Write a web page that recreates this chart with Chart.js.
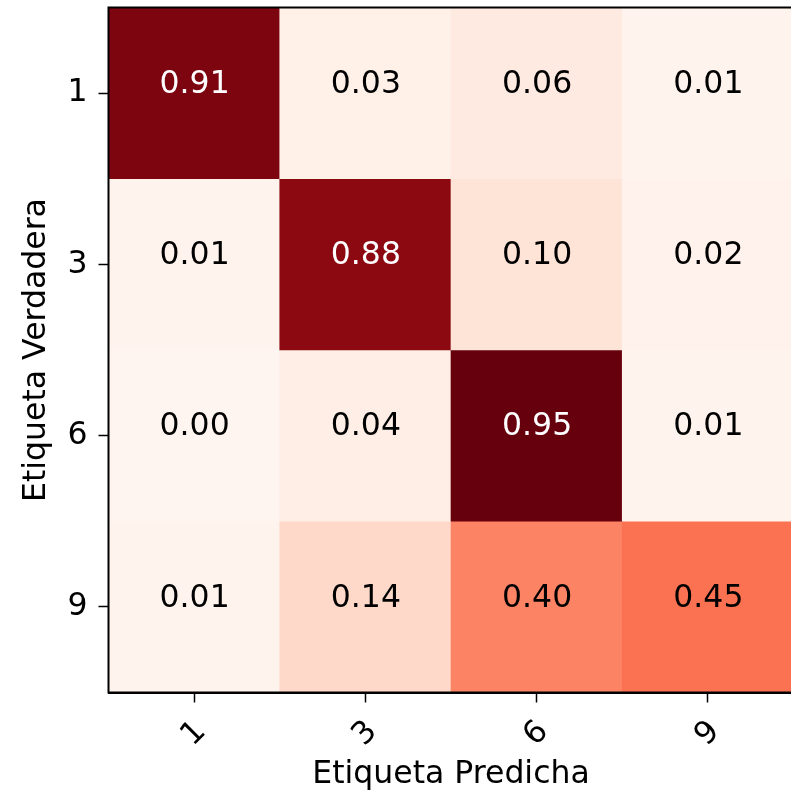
<!DOCTYPE html>
<html>
<head>
<meta charset="utf-8">
<script src="https://cdn.jsdelivr.net/npm/chart.js@4.4.1/dist/chart.umd.min.js"></script>
<style>
  html, body { margin: 0; padding: 0; background: #fff; overflow: hidden; width: 791px; height: 794px; }
  #wrap { position: absolute; left: 0; top: 0; width: 800px; height: 794px; }
</style>
</head>
<body>
<div id="wrap"><canvas id="c" width="800" height="794"></canvas></div>
<script>
// ---- data ----
const predLabels = ['1', '3', '6', '9'];   // x: Etiqueta Predicha
const trueLabels = ['1', '3', '6', '9'];   // y: Etiqueta Verdadera
const rowTrue1 = [0.91, 0.03, 0.06, 0.01];
const rowTrue3 = [0.01, 0.88, 0.10, 0.02];
const rowTrue6 = [0.00, 0.04, 0.95, 0.01];
const rowTrue9 = [0.01, 0.14, 0.40, 0.45];
const rows = [rowTrue1, rowTrue3, rowTrue6, rowTrue9];

// ---- style: matplotlib "Reds" colormap ----
const REDS = ['#fff5f0','#fee0d2','#fcbba1','#fc9272','#fb6a4a','#ef3b2c','#cb181d','#a50f15','#67000d'];
function hex2rgb(h){ return [parseInt(h.slice(1,3),16), parseInt(h.slice(3,5),16), parseInt(h.slice(5,7),16)]; }
function reds(t){
  t = Math.max(0, Math.min(1, t));
  const pos = t * (REDS.length - 1);
  const i = Math.min(Math.floor(pos), REDS.length - 2);
  const f = pos - i;
  const a = hex2rgb(REDS[i]), b = hex2rgb(REDS[i+1]);
  const c = a.map((v, k) => Math.round(v + (b[k] - v) * f));
  return 'rgb(' + c.join(',') + ')';
}
const vmax = Math.max(...rows.flat());
const FONT = "'DejaVu Sans', 'Liberation Sans', sans-serif";
const FS = 31.5;

const datasets = rows.map((vals, r) => ({
  label: trueLabels[r],
  data: vals.map(() => [r - 0.5, r + 0.5]),
  values: vals,
  backgroundColor: vals.map(v => reds(v / vmax)),
  borderWidth: 0,
  grouped: false,
  barPercentage: 1,
  categoryPercentage: 1
}));

const cellText = {
  id: 'cellText',
  afterDatasetsDraw(chart) {
    const ctx = chart.ctx;
    ctx.save();
    ctx.font = FS + 'px ' + FONT;
    ctx.textAlign = 'center';
    ctx.textBaseline = 'middle';
    chart.data.datasets.forEach((ds, di) => {
      const meta = chart.getDatasetMeta(di);
      meta.data.forEach((el, i) => {
        const v = ds.values[i];
        const cy = (el.y + el.base) / 2;
        ctx.fillStyle = v / vmax > 0.7 ? '#ffffff' : '#000000';
        ctx.fillText(v.toFixed(2), el.x + 0.5, cy - 8.5);
      });
    });
    // frame
    const a = chart.chartArea;
    ctx.strokeStyle = '#000';
    ctx.lineWidth = 2;
    ctx.strokeRect(a.left, a.top, a.right - a.left, a.bottom - a.top);
    ctx.restore();
  }
};

new Chart(document.getElementById('c'), {
  type: 'bar',
  data: { labels: predLabels, datasets },
  options: {
    responsive: false,
    animation: false,
    devicePixelRatio: 1,
    layout: { padding: { left: 0, top: 7.5, right: 6.5, bottom: 0 } },
    plugins: { legend: { display: false }, tooltip: { enabled: false } },
    scales: {
      x: {
        type: 'category',
        offset: true,
        grid: { offset: false, drawOnChartArea: false, drawTicks: true, tickLength: 10, tickWidth: 1.5, tickColor: '#000' },
        border: { display: true, color: '#000', width: 2 },
        ticks: { color: '#000', font: { family: FONT, size: FS }, minRotation: 45, maxRotation: 45, padding: 11, labelOffset: 7 },
        title: { display: true, text: 'Etiqueta Predicha', color: '#000', font: { family: FONT, size: FS }, padding: { top: 0, bottom: 0 } },
        afterFit(axis) { axis.height = 101.5; axis.paddingLeft = 0; axis.paddingRight = 0; }
      },
      y: {
        type: 'linear',
        min: -0.5,
        max: 3.5,
        reverse: true,
        afterBuildTicks(axis) { axis.ticks = [0, 1, 2, 3].map(v => ({ value: v })); },
        grid: { drawOnChartArea: false, drawTicks: true, tickLength: 10, tickWidth: 1.5, tickColor: '#000' },
        border: { display: true, color: '#000', width: 2 },
        ticks: { color: '#000', font: { family: FONT, size: FS }, padding: 11, callback: v => trueLabels[v] },
        title: { display: true, text: 'Etiqueta Verdadera', color: '#000', font: { family: FONT, size: FS }, padding: { top: 18, bottom: 0 } },
        afterFit(axis) { axis.width = 108.5; axis.paddingTop = 0; axis.paddingBottom = 0; }
      }
    }
  },
  plugins: [cellText]
});
</script>
</body>
</html>
